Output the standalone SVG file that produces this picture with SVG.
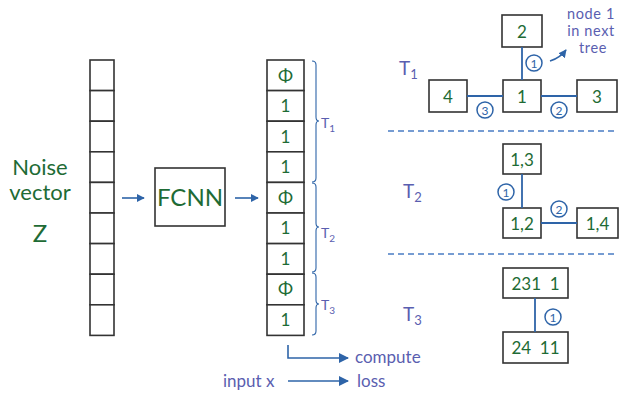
<svg xmlns="http://www.w3.org/2000/svg" width="619" height="399" viewBox="0 0 619 399">
  <defs>
    <marker id="arrow" viewBox="0 0 10 10" refX="9" refY="5" markerWidth="8" markerHeight="8" markerUnits="userSpaceOnUse" orient="auto">
      <path d="M0,0 L10,5 L0,10 z" fill="#2e64a8"/>
    </marker>
    <marker id="arrowBig" viewBox="0 0 10 10" refX="9" refY="5" markerWidth="10" markerHeight="10" markerUnits="userSpaceOnUse" orient="auto">
      <path d="M0,0 L10,5 L0,10 z" fill="#2e64a8"/>
    </marker>
  </defs>
  <style>
    .cell { fill: #ffffff; stroke: #333333; stroke-width: 1.6; }
    .box { fill: #ffffff; stroke: #333333; stroke-width: 1.6; }
    .green { fill: #1e6b35; font-family: Lato, "Open Sans", "Liberation Sans", sans-serif; text-anchor: middle; }
    .purple { fill: #5a5eb0; font-family: Lato, "Open Sans", "Liberation Sans", sans-serif; }
    .edge { stroke: #2e64a8; stroke-width: 1.8; fill: none; }
    .arrowline { stroke: #2e64a8; stroke-width: 1.6; fill: none; }
    .brace { stroke: #2e64a8; stroke-width: 1.1; fill: none; }
    .dash { stroke: #4a7cc4; stroke-width: 1.3; stroke-dasharray: 6 4; fill: none; }
    .badge circle { fill: #ffffff; stroke: #2e64a8; stroke-width: 1.5; }
    .badge text { fill: #2e64a8; font-family: Lato, "Open Sans", "Liberation Sans", sans-serif; font-size: 12px; text-anchor: middle; }
  </style>

  <!-- noise vector label -->
  <g id="noise-label">
    <text class="green" x="40" y="175" font-size="22">Noise</text>
    <text class="green" x="40" y="200" font-size="22">vector</text>
    <text class="green" x="40" y="242" font-size="24">Z</text>
  </g>

  <!-- input vector column -->
  <g id="noise-vector">
    <rect class="cell" x="90" y="60" width="24" height="30.6"/>
    <rect class="cell" x="90" y="90.6" width="24" height="30.6"/>
    <rect class="cell" x="90" y="121.2" width="24" height="30.6"/>
    <rect class="cell" x="90" y="151.8" width="24" height="30.6"/>
    <rect class="cell" x="90" y="182.4" width="24" height="30.6"/>
    <rect class="cell" x="90" y="213" width="24" height="30.6"/>
    <rect class="cell" x="90" y="243.6" width="24" height="30.6"/>
    <rect class="cell" x="90" y="274.2" width="24" height="30.6"/>
    <rect class="cell" x="90" y="304.8" width="24" height="30.6"/>
  </g>

  <!-- network block -->
  <g id="fcnn">
    <rect class="box" x="155" y="168" width="70" height="58"/>
    <text class="green" x="190" y="206" font-size="24">FCNN</text>
  </g>

  <!-- output sequence column -->
  <g id="output-sequence">
    <rect class="cell" x="267" y="60" width="37" height="30.6"/>
    <rect class="cell" x="267" y="90.6" width="37" height="30.6"/>
    <rect class="cell" x="267" y="121.2" width="37" height="30.6"/>
    <rect class="cell" x="267" y="151.8" width="37" height="30.6"/>
    <rect class="cell" x="267" y="182.4" width="37" height="30.6"/>
    <rect class="cell" x="267" y="213" width="37" height="30.6"/>
    <rect class="cell" x="267" y="243.6" width="37" height="30.6"/>
    <rect class="cell" x="267" y="274.2" width="37" height="30.6"/>
    <rect class="cell" x="267" y="304.8" width="37" height="30.6"/>
    <text class="green" x="285.5" y="82" font-size="18">Φ</text>
    <text class="green" x="285.5" y="112" font-size="17">1</text>
    <text class="green" x="285.5" y="143" font-size="17">1</text>
    <text class="green" x="285.5" y="173" font-size="17">1</text>
    <text class="green" x="285.5" y="204" font-size="18">Φ</text>
    <text class="green" x="285.5" y="234" font-size="17">1</text>
    <text class="green" x="285.5" y="265" font-size="17">1</text>
    <text class="green" x="285.5" y="295" font-size="18">Φ</text>
    <text class="green" x="285.5" y="326" font-size="17">1</text>
  </g>

  <!-- braces grouping the sequence into trees -->
  <g id="braces">
    <path class="brace" d="M312,61 Q316,61 316,65 L316,117 Q316,121 319,121 Q316,121 316,125 L316,178 Q316,182 312,182"/>
    <path class="brace" d="M312,183 Q316,183 316,187 L316,223 Q316,227 319,227 Q316,227 316,231 L316,268 Q316,272 312,272"/>
    <path class="brace" d="M312,273 Q316,273 316,277 L316,300 Q316,304 319,304 Q316,304 316,308 L316,331 Q316,335 312,335"/>
    <text class="purple" x="321" y="128" font-size="14">T<tspan font-size="10" dy="4">1</tspan></text>
    <text class="purple" x="321" y="238" font-size="14">T<tspan font-size="10" dy="4">2</tspan></text>
    <text class="purple" x="321" y="310" font-size="14">T<tspan font-size="10" dy="4">3</tspan></text>
  </g>

  <!-- loss inputs -->
  <g id="loss">
    <text class="purple" x="355" y="363" font-size="17">compute</text>
    <text class="purple" x="357" y="387" font-size="17">loss</text>
    <text class="purple" x="223" y="387" font-size="17">input x</text>
  </g>

  <!-- tree T1 -->
  <g id="tree-t1">
    <text class="purple" x="399" y="75" font-size="19">T<tspan font-size="13" dy="4">1</tspan></text>
    <g id="t1-node2"><rect class="box" x="502" y="15" width="40" height="32"/><text class="green" x="522" y="38" font-size="17">2</text></g>
    <g id="t1-node1"><rect class="box" x="503" y="80" width="38" height="32"/><text class="green" x="522" y="103" font-size="17">1</text></g>
    <g id="t1-node4"><rect class="box" x="429" y="80" width="38" height="32"/><text class="green" x="448" y="103" font-size="17">4</text></g>
    <g id="t1-node3"><rect class="box" x="577" y="80" width="40" height="32"/><text class="green" x="597" y="103" font-size="17">3</text></g>
    <text class="purple" x="591" y="19" font-size="14.5" letter-spacing="0.6" text-anchor="middle">node 1</text>
    <text class="purple" x="591" y="36" font-size="14.5" letter-spacing="0.6" text-anchor="middle">in next</text>
    <text class="purple" x="593" y="53" font-size="14.5" letter-spacing="0.6" text-anchor="middle">tree</text>
  </g>

  <!-- tree T2 -->
  <g id="tree-t2">
    <text class="purple" x="403" y="198" font-size="19">T<tspan font-size="13" dy="4">2</tspan></text>
    <g id="t2-node13"><rect class="box" x="503" y="144" width="38" height="30"/><text class="green" x="522" y="166" font-size="17">1,3</text></g>
    <g id="t2-node12"><rect class="box" x="503" y="208" width="38" height="30"/><text class="green" x="522" y="230" font-size="17">1,2</text></g>
    <g id="t2-node14"><rect class="box" x="577" y="208" width="41" height="30"/><text class="green" x="597.5" y="230" font-size="17">1,4</text></g>
  </g>

  <!-- tree T3 -->
  <g id="tree-t3">
    <text class="purple" x="403" y="321" font-size="19">T<tspan font-size="13" dy="4">3</tspan></text>
    <g id="t3-node-top"><rect class="box" x="503" y="268" width="65" height="30"/><text class="green" x="535.5" y="290" font-size="17" xml:space="preserve">231  1</text></g>
    <g id="t3-node-bottom"><rect class="box" x="503" y="332" width="65" height="31"/><text class="green" x="535.5" y="354" font-size="17" xml:space="preserve">24  11</text></g>
  </g>

  <!-- connectors -->
  <g id="connectors">
    <line class="arrowline" x1="122" y1="198" x2="144" y2="198" marker-end="url(#arrow)"/>
    <line class="arrowline" x1="235" y1="198" x2="258" y2="198" marker-end="url(#arrow)"/>
    <path class="arrowline" d="M288,345 L288,358 L348,358" marker-end="url(#arrowBig)"/>
    <line class="arrowline" x1="288" y1="381" x2="348" y2="381" marker-end="url(#arrowBig)"/>

    <line class="dash" x1="388" y1="131" x2="617" y2="131"/>
    <line class="dash" x1="388" y1="254" x2="617" y2="254"/>

    <line class="edge" x1="522" y1="47" x2="522" y2="80"/>
    <line class="edge" x1="467" y1="96" x2="503" y2="96"/>
    <line class="edge" x1="541" y1="96" x2="577" y2="96"/>
    <path class="arrowline" d="M550,61 Q560,58 566,50" marker-end="url(#arrow)"/>

    <line class="edge" x1="522" y1="174" x2="522" y2="208"/>
    <line class="edge" x1="541" y1="223" x2="577" y2="223"/>

    <line class="edge" x1="535" y1="298" x2="535" y2="332"/>

    <g class="badge"><circle cx="534" cy="63" r="8"/><text x="534" y="67.5">1</text></g>
    <g class="badge"><circle cx="485" cy="110" r="8"/><text x="485" y="114.5">3</text></g>
    <g class="badge"><circle cx="559" cy="110" r="8"/><text x="559" y="114.5">2</text></g>
    <g class="badge"><circle cx="506" cy="192" r="8"/><text x="506" y="196.5">1</text></g>
    <g class="badge"><circle cx="559" cy="209" r="8"/><text x="559" y="213.5">2</text></g>
    <g class="badge"><circle cx="553" cy="317" r="8"/><text x="553" y="321.5">1</text></g>
  </g>
</svg>
